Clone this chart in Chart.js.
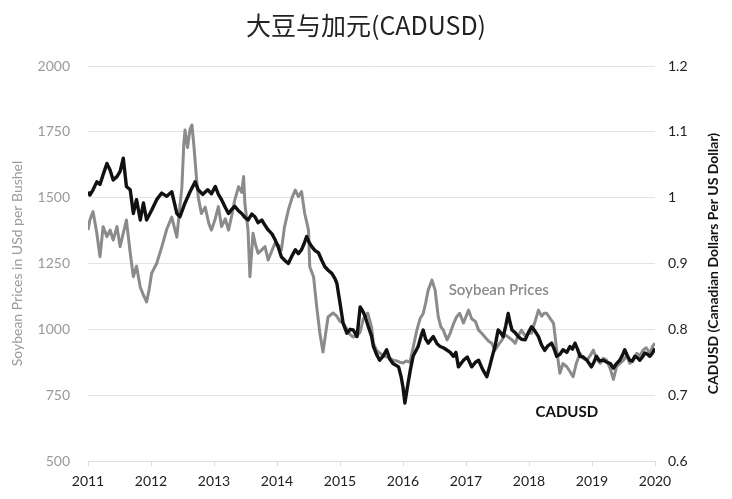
<!DOCTYPE html>
<html>
<head>
<meta charset="utf-8">
<script src="https://cdn.jsdelivr.net/npm/chart.js@4.4.1/dist/chart.umd.min.js"></script>
<style>
  html, body { margin: 0; padding: 0; background: #fff; }
  #wrap { width: 732px; height: 499px; }
</style>
</head>
<body>
<div id="wrap"><canvas id="chart" width="732" height="499"></canvas></div>
<script>
// ── Data ──────────────────────────────────────────────────
const soyYears = [
  2011.00, 2011.03, 2011.08, 2011.14, 2011.19, 2011.24, 2011.30, 2011.35, 2011.40, 2011.46,
  2011.51, 2011.56, 2011.61, 2011.67, 2011.72, 2011.77, 2011.83, 2011.88, 2011.93, 2011.97,
  2012.01, 2012.09, 2012.17, 2012.25, 2012.33, 2012.41, 2012.49, 2012.52, 2012.54, 2012.58,
  2012.62, 2012.65, 2012.68, 2012.72, 2012.75, 2012.80, 2012.86, 2012.92, 2012.96, 2013.02,
  2013.07, 2013.12, 2013.18, 2013.23, 2013.28, 2013.33, 2013.39, 2013.44, 2013.47, 2013.49,
  2013.54, 2013.57, 2013.62, 2013.66, 2013.70, 2013.75, 2013.81, 2013.86, 2013.92, 2013.97,
  2014.02, 2014.07, 2014.12, 2014.18, 2014.24, 2014.29, 2014.34, 2014.39, 2014.44, 2014.50,
  2014.52, 2014.58, 2014.63, 2014.68, 2014.73, 2014.77, 2014.81, 2014.89, 2014.95, 2015.00,
  2015.05, 2015.11, 2015.16, 2015.21, 2015.27, 2015.32, 2015.37, 2015.44, 2015.50, 2015.53,
  2015.58, 2015.63, 2015.69, 2015.74, 2015.79, 2015.84, 2015.90, 2015.95, 2016.00, 2016.05,
  2016.11, 2016.16, 2016.22, 2016.27, 2016.32, 2016.36, 2016.40, 2016.46, 2016.51, 2016.56,
  2016.60, 2016.64, 2016.70, 2016.75, 2016.80, 2016.85, 2016.90, 2016.96, 2017.04, 2017.09,
  2017.15, 2017.20, 2017.25, 2017.30, 2017.36, 2017.41, 2017.46, 2017.51, 2017.57, 2017.62,
  2017.67, 2017.73, 2017.78, 2017.83, 2017.88, 2017.94, 2017.99, 2018.04, 2018.07, 2018.11,
  2018.15, 2018.20, 2018.24, 2018.28, 2018.34, 2018.39, 2018.44, 2018.49, 2018.54, 2018.60,
  2018.65, 2018.70, 2018.75, 2018.81, 2018.86, 2018.92, 2018.97, 2019.02, 2019.07, 2019.13,
  2019.18, 2019.23, 2019.29, 2019.34, 2019.39, 2019.44, 2019.50, 2019.55, 2019.60, 2019.65,
  2019.71, 2019.76, 2019.81, 2019.86, 2019.92, 2019.96, 2020.00
];
const soyPrices = [
  1377, 1415, 1447, 1365, 1276, 1390, 1352, 1377, 1339, 1390,
  1314, 1365, 1415, 1290, 1200, 1240, 1160, 1130, 1104, 1150,
  1213, 1250, 1312, 1380, 1426, 1350, 1540, 1700, 1757, 1690,
  1760, 1776, 1700, 1580, 1502, 1440, 1464, 1400, 1377, 1420,
  1466, 1390, 1420, 1377, 1430, 1491, 1542, 1520, 1580, 1478,
  1377, 1200, 1365, 1320, 1289, 1300, 1314, 1263, 1300, 1327,
  1320, 1301, 1390, 1453, 1500, 1529, 1504, 1523, 1440, 1377,
  1238, 1200, 1086, 986, 914, 980, 1047, 1062, 1050, 1030,
  1024, 1000, 980, 971, 975, 990, 1040, 1062, 1009, 948,
  920, 910, 900, 895, 890, 883, 880, 875, 872, 880,
  875, 930, 997, 1040, 1060, 1100, 1149, 1187, 1149, 1047,
  1010, 997, 960, 986, 1020, 1047, 1061, 1024, 1073, 1040,
  1030, 997, 985, 971, 955, 947, 921, 940, 959, 980,
  971, 960, 947, 975, 997, 975, 985, 985, 1010, 1040,
  1073, 1050, 1061, 1061, 1040, 1023, 921, 833, 870, 858,
  840, 820, 870, 909, 890, 883, 900, 921, 890, 871,
  890, 883, 850, 810, 858, 870, 883, 900, 871, 880,
  909, 900, 921, 930, 909, 935, 947
];

const cadYears = [
  2011.00, 2011.03, 2011.08, 2011.14, 2011.19, 2011.24, 2011.30, 2011.35, 2011.40, 2011.46,
  2011.51, 2011.56, 2011.61, 2011.67, 2011.72, 2011.77, 2011.83, 2011.88, 2011.93, 2012.01,
  2012.09, 2012.17, 2012.25, 2012.33, 2012.41, 2012.46, 2012.54, 2012.62, 2012.70, 2012.75,
  2012.82, 2012.90, 2012.96, 2013.02, 2013.07, 2013.12, 2013.18, 2013.23, 2013.28, 2013.33,
  2013.39, 2013.44, 2013.49, 2013.54, 2013.60, 2013.65, 2013.70, 2013.76, 2013.81, 2013.86,
  2013.92, 2013.97, 2014.02, 2014.07, 2014.12, 2014.18, 2014.24, 2014.29, 2014.34, 2014.39,
  2014.43, 2014.47, 2014.51, 2014.55, 2014.60, 2014.66, 2014.71, 2014.76, 2014.82, 2014.87,
  2014.92, 2014.95, 2015.00, 2015.05, 2015.11, 2015.16, 2015.21, 2015.27, 2015.32, 2015.37,
  2015.40, 2015.45, 2015.50, 2015.53, 2015.58, 2015.63, 2015.69, 2015.74, 2015.79, 2015.84,
  2015.93, 2015.97, 2016.00, 2016.03, 2016.08, 2016.12, 2016.16, 2016.24, 2016.30, 2016.32,
  2016.36, 2016.40, 2016.44, 2016.48, 2016.54, 2016.59, 2016.64, 2016.69, 2016.75, 2016.80,
  2016.84, 2016.88, 2016.96, 2017.02, 2017.09, 2017.15, 2017.20, 2017.26, 2017.33, 2017.38,
  2017.42, 2017.46, 2017.51, 2017.55, 2017.59, 2017.63, 2017.67, 2017.70, 2017.73, 2017.78,
  2017.83, 2017.88, 2017.94, 2017.99, 2018.04, 2018.09, 2018.15, 2018.20, 2018.25, 2018.30,
  2018.36, 2018.40, 2018.44, 2018.49, 2018.54, 2018.60, 2018.65, 2018.69, 2018.73, 2018.77,
  2018.81, 2018.86, 2018.92, 2018.99, 2019.03, 2019.07, 2019.12, 2019.18, 2019.24, 2019.29,
  2019.34, 2019.39, 2019.44, 2019.48, 2019.52, 2019.56, 2019.60, 2019.64, 2019.68, 2019.72,
  2019.76, 2019.80, 2019.84, 2019.88, 2019.92, 2019.96, 2020.00
];
const cadRates = [
  1.009, 1.004, 1.012, 1.024, 1.020, 1.035, 1.052, 1.042, 1.027, 1.032,
  1.040, 1.060, 1.017, 1.012, 0.976, 0.997, 0.966, 0.992, 0.966, 0.981,
  0.997, 1.007, 1.002, 1.009, 0.976, 0.971, 0.992, 1.009, 1.024, 1.012,
  1.005, 1.012, 1.006, 1.017, 1.005, 0.997, 0.985, 0.976, 0.982, 0.987,
  0.980, 0.976, 0.970, 0.966, 0.975, 0.971, 0.962, 0.966, 0.958, 0.951,
  0.945, 0.936, 0.925, 0.910, 0.905, 0.900, 0.912, 0.921, 0.915, 0.921,
  0.930, 0.941, 0.932, 0.926, 0.920, 0.916, 0.905, 0.895, 0.889, 0.885,
  0.877, 0.870, 0.840, 0.809, 0.794, 0.800, 0.799, 0.789, 0.834, 0.826,
  0.819, 0.804, 0.790, 0.774, 0.762, 0.753, 0.760, 0.769, 0.755, 0.748,
  0.743, 0.728, 0.712, 0.688, 0.718, 0.740, 0.759, 0.774, 0.794, 0.799,
  0.785, 0.779, 0.784, 0.789, 0.778, 0.774, 0.772, 0.769, 0.765, 0.759,
  0.765, 0.743, 0.753, 0.758, 0.743, 0.750, 0.753, 0.740, 0.728, 0.745,
  0.760, 0.774, 0.799, 0.795, 0.789, 0.805, 0.824, 0.810, 0.799, 0.795,
  0.789, 0.785, 0.784, 0.795, 0.804, 0.798, 0.789, 0.776, 0.768, 0.775,
  0.779, 0.770, 0.759, 0.762, 0.769, 0.765, 0.774, 0.770, 0.779, 0.770,
  0.759, 0.758, 0.753, 0.743, 0.750, 0.759, 0.752, 0.753, 0.750, 0.748,
  0.741, 0.748, 0.753, 0.760, 0.769, 0.760, 0.753, 0.752, 0.759, 0.757,
  0.753, 0.758, 0.764, 0.762, 0.759, 0.764, 0.771
];

const yearTicks  = [2011, 2012, 2013, 2014, 2015, 2016, 2017, 2018, 2019, 2020];
const soyTicks   = [500, 750, 1000, 1250, 1500, 1750, 2000];
const cadTicks   = [0.6, 0.7, 0.8, 0.9, 1, 1.1, 1.2];

const titleText  = "大豆与加元(CADUSD)";
const soyLabel   = "Soybean Prices";
const cadLabel   = "CADUSD";
const soyAxisTitle = "Soybean Prices in USd per Bushel";
const cadAxisTitle = "CADUSD (Canadian Dollars Per US Dollar)";

const SOY_GREY = "#8b8b8b";
const CAD_BLACK = "#111111";
const FONT = "Lato, 'Noto Sans', sans-serif";

// ── Series labels + right axis title (reads bottom-to-top) ──
const extraText = {
  id: "extraText",
  afterDatasetsDraw(chart) {
    const { ctx, scales, chartArea } = chart;
    ctx.save();
    ctx.textAlign = "center";
    ctx.textBaseline = "middle";

    ctx.font = "600 15px " + FONT;
    ctx.fillStyle = SOY_GREY;
    ctx.fillText(soyLabel, scales.x.getPixelForValue(2017.52), scales.y.getPixelForValue(1150));

    ctx.font = "700 15px " + FONT;
    ctx.fillStyle = CAD_BLACK;
    ctx.fillText(cadLabel, scales.x.getPixelForValue(2018.6), scales.y1.getPixelForValue(0.674));

    // right axis title, rotated the same way as the left one
    ctx.translate(scales.y1.right - 19, (chartArea.top + chartArea.bottom) / 2);
    ctx.rotate(-Math.PI / 2);
    ctx.font = "700 14px " + FONT;
    ctx.fillText(cadAxisTitle, 0, 0);
    ctx.restore();
  }
};

// ── Chart ─────────────────────────────────────────────────
new Chart(document.getElementById("chart"), {
  type: "line",
  data: {
    datasets: [
      {
        label: cadLabel,
        data: cadYears.map((x, i) => ({ x, y: cadRates[i] })),
        yAxisID: "y1",
        borderColor: CAD_BLACK,
        borderWidth: 3.4,
        borderJoinStyle: "round",
        pointRadius: 0,
        tension: 0
      },
      {
        label: soyLabel,
        data: soyYears.map((x, i) => ({ x, y: soyPrices[i] })),
        yAxisID: "y",
        borderColor: SOY_GREY,
        borderWidth: 3,
        borderJoinStyle: "round",
        pointRadius: 0,
        tension: 0
      }
    ]
  },
  options: {
    responsive: false,
    animation: false,
    layout: { padding: 0 },
    plugins: {
      legend: { display: false },
      tooltip: { enabled: false },
      title: {
        display: true,
        text: titleText,
        color: "#222",
        font: { family: "'Noto Sans CJK SC', " + FONT, size: 25, weight: "normal" },
        padding: { top: 10, bottom: 26 }
      }
    },
    scales: {
      x: {
        type: "linear",
        min: 2011,
        max: 2020,
        afterBuildTicks: s => { s.ticks = yearTicks.map(v => ({ value: v })); },
        afterFit: s => { s.height = 38; },
        ticks: {
          color: "#222",
          font: { family: FONT, size: 14 },
          padding: 7,
          maxRotation: 0,
          callback: v => String(v)
        },
        grid: { drawOnChartArea: false, drawTicks: true, tickLength: 5, color: "#dddddd" },
        border: { color: "#dddddd" }
      },
      y: {
        position: "left",
        min: 500,
        max: 2000,
        afterBuildTicks: s => { s.ticks = soyTicks.map(v => ({ value: v })); },
        afterFit: s => { s.width = 88; },
        ticks: { color: "#9a9a9a", font: { family: FONT, size: 14 }, padding: 18, callback: v => String(v) },
        grid: { color: "#e3e3e3", drawTicks: false },
        border: { display: false },
        title: {
          display: true,
          text: soyAxisTitle,
          color: "#9a9a9a",
          font: { family: FONT, size: 14 },
          padding: { top: 9 }
        }
      },
      y1: {
        position: "right",
        min: 0.6,
        max: 1.2,
        afterBuildTicks: s => { s.ticks = cadTicks.map(v => ({ value: v })); },
        afterFit: s => { s.width = 77; },
        ticks: { color: "#222", font: { family: FONT, size: 14 }, padding: 13, callback: v => String(v) },
        grid: { drawOnChartArea: false, drawTicks: false },
        border: { display: false }
      }
    }
  },
  plugins: [extraText]
});
</script>
</body>
</html>
